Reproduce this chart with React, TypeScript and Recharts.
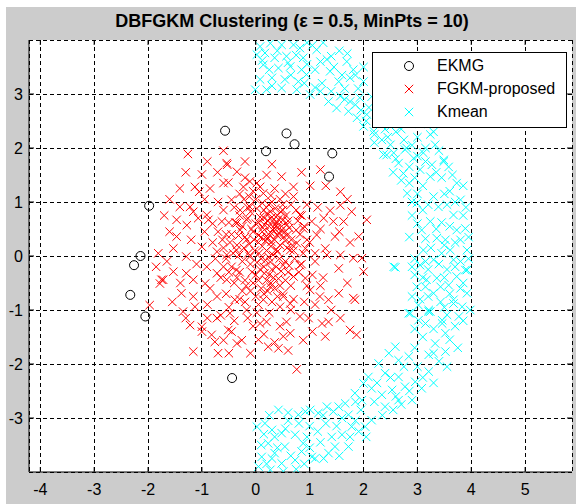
import { ScatterChart, Scatter, XAxis, YAxis, CartesianGrid } from 'recharts'

// EKMG cluster centres (black circles)
const ekmgPoints: [number, number][] = [
  [-0.57, 2.32], [0.57, 2.27], [0.72, 2.07], [0.19, 1.94], [1.42, 1.9], [1.36, 1.47],
  [-1.98, 0.93], [-2.14, 0.0], [-2.26, -0.17], [-2.33, -0.72], [-2.05, -1.12], [-0.44, -2.26],
]

// FGKM-proposed (red crosses)
const fgkmPoints: [number, number][] = [
  [-1.26, 1.89], [-1.0, 1.51], [-0.53, 1.69], [-0.35, 1.56], [-0.71, 1.55], [-1.41, 1.25], [-1.13, 1.28],
  [-1.05, 1.19], [-0.6, 1.35], [-0.51, 1.36], [-0.23, 1.28], [-0.11, 1.38], [-0.45, 1.04], [-1.41, 0.91],
  [-1.22, 0.91], [-1.16, 0.82], [-0.91, 0.76], [-1.47, 0.67], [-1.28, 0.57], [-1.07, 0.7], [-0.88, 0.67],
  [-0.63, 0.64], [-0.35, 0.61], [-0.17, 0.67], [-0.29, 0.48], [-1.47, 0.36], [-1.53, 0.14], [-1.81, 0.05],
  [-1.29, -0.01], [-1.0, 0.17], [-0.72, 0.08], [-0.54, 0.02], [-0.36, 0.11], [-0.17, 0.3], [-0.11, -0.01],
  [-1.53, -0.29], [-1.72, -0.44], [-1.78, -0.51], [-1.29, -0.32], [-1.16, -0.44], [-0.94, -0.51], [-0.91, -0.2],
  [-0.72, -0.32], [-0.54, -0.44], [-0.36, -0.26], [-1.38, -0.69], [-1.16, -0.75], [-0.72, -0.75], [-0.39, -0.81],
  [-1.97, -0.91], [-1.35, -1.03], [-1.13, -0.94], [-0.72, -1.15], [-0.48, -1.06], [-0.17, -1.0], [-1.22, -1.28],
  [-1.0, -1.31], [-0.82, -1.46], [-0.51, -1.37], [-0.76, -1.59], [-0.6, -1.56], [-0.35, -1.62], [-0.26, -1.56],
  [-1.16, -1.77], [-1.0, -1.4], [-0.11, 0.91], [-0.29, 0.85],
  [0.48, 1.47], [0.7, 1.28], [1.01, 1.3], [1.57, 1.19], [1.57, 0.94], [1.38, 0.84], [1.78, 0.82], [2.06, 0.67],
  [1.26, 0.7], [1.44, 0.64], [1.63, 0.64], [0.82, 0.76], [1.04, 0.64], [1.13, 0.39], [1.47, 0.36], [1.91, 0.36],
  [0.88, 0.51], [0.76, 0.24], [0.64, 0.11], [1.29, 0.14], [1.32, 0.02], [1.57, 0.02], [1.81, -0.04], [1.97, -0.04],
  [2.0, -0.29], [1.54, -0.23], [0.92, -0.41], [0.7, -0.38], [1.19, -0.75], [1.35, -0.81], [1.54, -0.69], [1.81, -0.78],
  [1.01, -0.63], [0.64, -0.88], [0.45, -0.94], [0.98, -1.15], [1.23, -1.25], [1.35, -1.22], [1.57, -1.15],
  [1.75, -1.37], [1.87, -1.46], [1.29, -1.49], [0.88, -1.56], [0.64, -1.43], [0.51, -1.49], [0.23, -1.68],
  [0.42, -1.71], [0.76, -2.1], [0.27, -0.57], [0.51, -0.75], [0.14, -0.81], [0.2, -1.22], [0.08, -1.25],
  [0.82, -0.17], [0.51, -0.17], [0.27, -0.11], [0.92, 0.14], [0.39, 0.39], [0.2, 0.36], [0.51, 0.67], [0.27, 0.82],
  [0.14, 1.16], [0.02, 1.35], [0.82, -1.12], [0.57, -1.22], [-0.54, 1.72], [-1.75, -0.44], [1.84, -0.81],
  [0.05, 0.62], [0.12, 0.45], [0.25, 0.55], [0.35, 0.3], [0.05, 0.25], [-0.2, 0.35], [0.2, 0.1], [0.45, 0.2],
  [0.6, 0.4], [-0.35, 0.2], [0.1, -0.05], [-0.1, -0.15], [0.3, -0.25], [0.0, -0.35], [-0.25, -0.1], [0.2, -0.45],
  [-0.4, -0.5], [0.55, -0.1], [0.4, 0.75], [0.15, 0.85], [-0.15, 0.9], [0.0, 1.05], [0.3, 1.0], [0.5, 0.95],
  [-0.3, 0.75], [-0.55, 0.4], [-0.6, 0.15], [-0.45, -0.2], [-0.65, -0.4], [0.7, 0.1], [0.8, -0.3], [0.65, -0.55],
  [0.35, -0.6], [-0.1, -0.65], [-0.3, -0.8], [0.05, -0.9], [0.25, -1.05], [-0.15, -1.15], [0.45, -1.3],
  [-0.5, -0.95], [0.6, 0.65], [0.75, 0.85], [0.9, 0.55], [1.0, 0.25], [1.1, -0.1], [0.95, -0.55],
  [0.32, 0.48], [0.38, 0.62], [0.44, 0.41], [0.18, 0.28], [0.08, 0.72], [-0.05, 0.45], [0.22, 0.66], [0.28, 0.18],
  [0.48, 0.55], [0.55, 0.28], [0.62, 0.52], [0.4, 0.08], [0.15, -0.2], [-0.02, 0.1], [-0.12, 0.22], [-0.08, 0.5],
  [0.02, 0.88], [0.12, 0.98], [-0.22, 1.05], [-0.4, 0.9], [-0.5, 0.62], [-0.7, 0.45], [-0.8, 0.25], [-0.75, -0.05],
  [-0.6, -0.2], [-0.85, -0.6], [-0.55, -0.7], [-0.2, -0.45], [0.1, -0.6], [0.42, -0.42], [0.5, -0.7], [0.7, -0.8],
  [0.3, -0.85], [-0.05, -1.3], [0.15, -1.45], [-0.4, -1.2], [0.65, -1.0], [1.05, -0.35], [1.2, 0.5], [0.95, 0.95],
  [0.7, 1.1], [0.35, 1.25], [-0.05, 1.2], [-0.3, 1.15], [-0.7, 1.0], [-0.85, 1.25], [-0.6, 0.85],
  [0.26, 0.38], [0.34, 0.52], [0.16, 0.58], [0.42, 0.68], [0.3, 0.72], [0.52, 0.35], [0.58, 0.15], [0.66, 0.3],
  [0.1, 0.35], [0.0, 0.6], [-0.15, 0.7], [-0.25, 0.55], [0.2, 0.78], [0.46, 0.82], [0.56, 0.75], [0.24, 0.95],
  [0.36, 0.88], [-0.1, 0.82], [0.06, 0.05], [0.18, -0.08], [0.32, 0.02], [0.44, -0.05], [0.6, -0.3], [0.38, -0.2],
  [0.25, -0.35], [0.08, -0.25], [-0.05, -0.5], [0.15, -0.7], [0.45, -0.55], [-0.3, -0.3], [-0.42, 0.05],
  [-0.32, 0.38], [-0.48, 0.25], [0.72, -0.05], [0.82, 0.4], [0.78, 0.65], [0.88, 0.05], [-0.2, -0.85],
  [0.02, -1.05], [-0.65, -1.1], [-0.9, -0.9], [-1.1, -0.15], [-1.2, 0.3], [-0.95, 0.45], [-0.8, 0.6],
  [-0.95, 1.05], [-0.2, 1.45], [0.2, 1.5], [0.55, 1.15], [1.15, 0.9], [1.25, -0.4], [1.1, -0.9], [0.35, -1.6],
  [-0.1, -1.8], [-0.5, -1.8],
  [0.13, 0.52], [0.27, 0.44], [0.36, 0.58], [0.21, 0.31], [0.47, 0.47], [0.05, 0.38], [-0.03, 0.3], [0.31, 0.65],
  [0.4, 0.52], [0.16, 0.7], [0.58, 0.58], [0.53, 0.44], [0.29, 0.26], [0.12, 0.18], [0.38, 0.12], [0.24, -0.02],
  [0.02, -0.12], [-0.14, 0.05], [-0.22, 0.15], [-0.31, 0.02], [0.47, -0.28], [0.33, -0.4], [0.16, -0.32],
  [-0.07, -0.3], [-0.18, -0.55], [0.05, -0.45], [0.28, -0.5], [0.62, -0.18], [0.68, 0.2], [0.75, 0.48], [0.5, 0.85],
  [0.65, 0.95], [0.28, 1.12], [0.08, 1.28], [-0.12, 1.1], [-0.38, 0.62], [-0.45, 0.4], [-0.62, 0.3], [-0.55, -0.05],
  [-0.35, -0.4], [-0.5, -0.3], [-0.25, -0.65], [0.0, -0.75], [0.22, -0.65], [0.4, -0.75], [0.55, -0.45],
  [0.85, -0.15], [0.95, 0.3], [0.85, 0.75], [0.45, 1.05],
  [-1.6, 0.45], [-1.65, -0.1], [-1.4, -0.5], [-1.55, -0.85], [-1.3, -1.15], [-0.9, -1.15], [-0.45, -1.4],
  [0.05, -1.55], [0.6, -1.75], [1.05, -1.4], [1.4, -1.0], [1.7, -0.5], [1.75, 0.25], [1.7, 1.05], [1.3, 1.3],
  [0.85, 1.55], [-0.6, 1.95], [-0.9, 1.75], [-1.3, 1.55], [-1.6, 1.05], [-1.7, 0.75], [-1.85, -0.2], [1.2, 1.6],
  [0.3, 1.7], [-0.2, 1.75], [1.55, 0.45], [1.1, 0.05], [1.2, -0.55], [0.9, -0.85], [-0.7, -1.8],
]

// Kmean (cyan crosses)
const kmeanPoints: [number, number][] = [
  [0.08, 3.88], [0.27, 3.94], [0.48, 3.91], [0.7, 3.91], [0.82, 3.85], [0.02, 3.73], [0.17, 3.76], [0.35, 3.67],
  [0.57, 3.7], [0.88, 3.67], [1.13, 3.82], [1.32, 3.64], [1.69, 3.6], [0.14, 3.54], [0.42, 3.48], [0.64, 3.51],
  [0.85, 3.45], [1.1, 3.45], [1.38, 3.42], [1.81, 3.45], [0.08, 3.27], [0.3, 3.3], [0.54, 3.27], [0.79, 3.23],
  [0.94, 3.36], [1.23, 3.2], [1.54, 3.23], [1.75, 3.3], [2.0, 3.23], [-0.01, 3.08], [0.2, 3.08], [0.48, 3.11],
  [0.76, 3.08], [1.01, 2.99], [1.2, 3.05], [1.35, 2.86], [1.57, 2.96], [1.75, 2.86], [1.93, 2.93], [1.5, 2.74],
  [1.72, 2.68], [1.88, 2.56], [2.06, 2.62], [2.0, 2.4], [2.19, 2.31], [2.34, 2.15], [2.5, 2.06], [2.56, 1.91],
  [2.37, 1.88], [2.77, 1.97], [2.93, 1.81], [3.24, 2.25], [3.33, 2.06], [3.11, 1.91], [3.49, 1.75], [2.65, 1.72],
  [2.43, 1.87], [2.74, 1.53], [3.27, 1.69], [3.49, 1.78], [3.58, 1.65], [3.24, 1.47], [3.73, 1.35], [2.81, 1.16],
  [2.99, 0.98], [3.39, 0.91], [3.8, 1.04], [3.67, 0.76], [3.24, 0.64], [3.08, 0.48], [3.36, 0.33], [3.52, 0.3],
  [3.89, 0.51], [3.73, 0.48], [3.61, 0.11], [3.92, 0.11], [3.11, 0.11], [3.3, -0.07], [2.59, -0.21], [3.05, -0.17],
  [3.67, -0.07], [3.89, -0.26], [3.36, -0.41], [3.15, -0.57], [3.58, -0.54], [2.99, -0.57], [3.3, -0.69],
  [3.92, -0.69], [3.67, -0.88], [3.43, -0.85], [3.21, -1.03], [2.87, -1.06], [3.55, -1.09], [3.83, -0.94],
  [3.02, -1.19], [3.46, -1.25], [3.77, -1.12], [2.84, -1.06], [3.21, -1.0], [3.46, -1.19], [3.02, -0.91],
  [3.52, -1.43], [3.33, -1.62], [3.52, -1.77], [3.21, -1.83], [2.59, -1.68], [2.84, -1.86], [2.65, -1.93],
  [2.47, -1.8], [2.28, -1.99], [2.4, -2.17], [2.65, -2.24], [2.96, -2.33], [3.21, -2.14], [3.08, -2.45],
  [2.77, -2.42], [2.53, -2.48], [2.09, -2.24], [2.0, -2.36], [2.15, -2.45], [2.34, -2.57], [2.65, -2.67],
  [2.9, -2.67], [2.4, -2.79], [1.84, -2.54], [1.97, -2.67], [1.66, -2.73], [1.54, -2.79], [1.44, -2.88],
  [1.16, -2.91], [0.92, -2.88], [0.42, -2.85], [0.79, -2.94], [1.72, -2.94], [2.15, -3.04], [2.03, -3.16],
  [1.91, -3.25], [1.78, -3.16], [1.6, -3.31], [1.41, -3.35], [1.47, -3.53], [1.72, -3.53], [1.26, -3.75],
  [1.04, -3.72], [0.85, -3.62], [0.73, -3.78], [0.54, -3.53], [0.48, -3.28], [0.73, -3.31], [0.88, -3.47],
  [0.17, -3.1], [0.02, -3.16], [0.3, -3.22], [0.23, -3.47], [0.35, -3.65], [0.48, -3.84], [0.11, -3.72],
  [0.05, -3.9], [0.27, -3.96], [0.51, -3.99], [1.01, -2.85], [1.32, -2.79], [2.56, -0.2], [3.17, -0.44],
  [3.43, -0.57], [3.73, -0.38], [3.92, -0.26], [3.67, -0.81], [3.98, -1.0], [3.24, -1.03],
  [0.12, 3.62], [0.25, 3.45], [0.4, 3.8], [0.6, 3.58], [0.75, 3.72], [0.95, 3.55], [1.05, 3.9], [1.2, 3.6],
  [1.45, 3.5], [1.55, 3.8], [0.3, 3.15], [0.65, 3.35], [0.9, 3.2], [1.1, 3.12], [1.4, 3.05], [1.65, 3.1],
  [1.85, 2.8], [2.1, 2.75], [2.25, 2.55], [2.4, 2.35], [2.2, 2.1], [2.6, 2.3], [2.75, 2.15], [2.9, 2.05],
  [3.05, 1.6], [2.55, 1.55], [2.85, 1.35], [3.1, 1.3], [3.45, 1.45], [3.6, 1.2], [3.0, 1.15], [3.2, 0.95],
  [3.55, 0.95], [2.9, 0.75], [3.45, 0.62], [3.85, 0.75], [3.15, 0.32], [3.7, 0.25], [2.95, -0.05], [3.45, 0.05],
  [3.8, -0.1], [3.2, -0.25], [3.55, -0.25], [2.95, -0.35], [3.05, -0.8], [3.6, -0.7], [3.85, -0.5], [3.3, -1.35],
  [3.7, -1.3], [3.1, -1.5], [2.95, -1.7], [3.4, -1.95], [3.0, -2.05], [2.75, -2.05], [2.5, -2.25], [2.85, -2.5],
  [2.2, -2.7], [2.55, -2.85], [1.95, -2.85], [1.85, -3.05], [1.6, -3.0], [1.3, -3.1], [1.15, -3.25], [1.0, -3.15],
  [0.6, -3.05], [0.35, -3.35], [1.2, -3.45], [1.0, -3.55], [0.65, -3.7], [0.9, -3.85], [0.2, -3.85], [0.4, -3.55],
  [1.35, -3.65], [0.15, -3.3],
  [1.6, 3.35], [1.9, 3.1], [2.15, 2.95], [2.3, 2.8], [2.45, 2.6], [2.6, 2.5], [2.05, 2.5], [2.3, 2.45], [2.5, 2.4],
  [2.7, 2.35], [2.8, 2.0], [3.0, 2.2], [3.15, 2.0], [3.0, 1.85], [2.45, 2.2], [2.2, 2.25], [1.95, 2.7], [1.65, 2.9],
  [1.85, 3.35], [2.3, 3.1], [2.55, 2.75], [2.8, 2.6], [3.05, 2.45], [3.3, 2.3], [3.4, 1.95], [2.6, 1.8], [2.85, 1.65],
  [3.15, 1.75], [3.35, 1.55], [2.7, 1.4], [2.95, 1.45], [3.65, 1.5], [3.85, 1.3], [3.0, 2.65], [2.65, 2.95],
  [2.0, 3.5], [2.3, 3.3], [1.4, 3.7], [1.7, 3.75], [0.95, 3.95], [1.25, 3.95],
  [2.9, 1.0], [3.1, 0.85], [3.3, 1.1], [3.5, 1.15], [3.7, 1.0], [3.9, 0.9], [3.0, 0.6], [3.35, 0.5], [3.6, 0.55],
  [3.95, 0.35], [2.85, 0.35], [3.25, 0.15], [3.5, 0.2], [3.8, 0.3], [2.9, -0.2], [3.15, -0.1], [3.4, -0.15],
  [3.7, -0.2], [3.95, -0.05], [3.1, -0.4], [3.5, -0.4], [3.8, -0.6], [2.9, -0.75], [3.2, -0.75], [3.5, -0.95],
  [3.85, -1.2], [3.15, -1.25], [2.95, -1.35], [3.6, -1.55], [3.3, -1.8], [3.75, -1.7], [3.55, -2.05], [3.1, -2.25],
  [3.3, -2.35],
  [2.7, -2.75], [2.35, -2.95], [2.05, -3.35], [1.75, -3.35], [1.5, -3.15], [1.25, -2.95], [0.6, -2.9],
  [0.25, -2.95], [0.1, -3.5], [0.55, -3.2], [0.8, -3.1], [1.1, -3.75], [0.75, -3.95], [1.55, -3.7], [0.3, -3.75],
  [0.95, -3.35], [1.85, -2.7], [2.25, -2.35], [2.6, -2.6],
]

const xTicks = [-4, -3, -2, -1, 0, 1, 2, 3, 4, 5]
const yTicks = [-3, -2, -1, 0, 1, 2, 3]

const FONT = '"Liberation Sans", Arial, sans-serif'
const W = 576
const H = 504
const M = { top: 40, right: 4, bottom: 0, left: 0 }
const X_AXIS_H = 32
const Y_AXIS_W = 29
const PLOT_TOP = M.top
const PLOT_BOTTOM = H - M.bottom - X_AXIS_H
const PLOT_LEFT = M.left + Y_AXIS_W
const PLOT_RIGHT = W - M.right

const toXY = (pts: [number, number][]) => pts.map(([x, y]) => ({ x, y }))

function Cross({ cx, cy, color }: { cx?: number, cy?: number, color: string }) {
  if (cx == null || cy == null) return null
  const s = 4.2
  return (
    <path
      d={`M${cx - s},${cy - s}L${cx + s},${cy + s}M${cx - s},${cy + s}L${cx + s},${cy - s}`}
      stroke={color}
      strokeWidth={1}
      fill="none"
    />
  )
}

function Ring({ cx, cy }: { cx?: number, cy?: number }) {
  if (cx == null || cy == null) return null
  return <circle cx={cx} cy={cy} r={4.5} stroke="#000" strokeWidth={1} fill="none" />
}

// MATLAB style: ticks point inward on all four sides
function BottomTick({ x, y, payload }: any) {
  return (
    <g>
      <line x1={x} y1={PLOT_BOTTOM} x2={x} y2={PLOT_BOTTOM - 5} stroke="#000" />
      <line x1={x} y1={PLOT_TOP} x2={x} y2={PLOT_TOP + 5} stroke="#000" />
      <text x={x} y={y + 23} textAnchor="middle" fontSize={16} fontFamily={FONT} fill="#000">
        {payload.value}
      </text>
    </g>
  )
}

function LeftTick({ x, y, payload }: any) {
  return (
    <g>
      <line x1={PLOT_LEFT} y1={y} x2={PLOT_LEFT + 5} y2={y} stroke="#000" />
      <line x1={PLOT_RIGHT} y1={y} x2={PLOT_RIGHT - 5} y2={y} stroke="#000" />
      <text x={x - 6} y={y} dy="0.36em" textAnchor="end" fontSize={16} fontFamily={FONT} fill="#000">
        {payload.value}
      </text>
    </g>
  )
}

const legendItems = [
  { name: 'EKMG', kind: 'ring', color: '#000' },
  { name: 'FGKM-proposed', kind: 'cross', color: '#ff0000' },
  { name: 'Kmean', kind: 'cross', color: '#00ffff' },
]

export default function App() {
  return (
    <div style={{ position: 'absolute', left: 0, top: 0, width: W, height: H, background: '#fff', fontFamily: FONT }}>
      <div style={{ position: 'absolute', left: 6, top: 7, right: 0, bottom: 0, background: '#cccccc' }} />
      <div
        style={{
          position: 'absolute', left: 42, top: 9, width: 500, textAlign: 'center',
          fontSize: 18, fontWeight: 'bold', color: '#000', lineHeight: '24px',
        }}
      >
        DBFGKM Clustering (ε = 0.5, MinPts = 10)
      </div>
      <div style={{ position: 'absolute', left: 0, top: 0 }}>
        <ScatterChart width={W} height={H} margin={M}>
          <CartesianGrid stroke="#000" strokeDasharray="4 3" fill="#fff" shapeRendering="crispEdges" />
          <XAxis
            type="number"
            dataKey="x"
            domain={[-4.21, 5.87]}
            allowDataOverflow
            ticks={xTicks}
            height={X_AXIS_H}
            tickSize={0}
            tickMargin={0}
            tickLine={false}
            axisLine={{ stroke: '#000' }}
            tick={<BottomTick />}
            interval={0}
          />
          <XAxis xAxisId="top" orientation="top" type="number" domain={[-4.21, 5.87]} allowDataOverflow
            height={0} tick={false} tickLine={false} axisLine={{ stroke: '#000' }} />
          <YAxis
            type="number"
            dataKey="y"
            domain={[-4, 4]}
            allowDataOverflow
            ticks={yTicks}
            width={Y_AXIS_W}
            tickSize={0}
            tickMargin={0}
            tickLine={false}
            axisLine={{ stroke: '#000' }}
            tick={<LeftTick />}
            interval={0}
          />
          <YAxis yAxisId="right" orientation="right" type="number" domain={[-4, 4]} allowDataOverflow
            width={0} tick={false} tickLine={false} axisLine={{ stroke: '#000' }} />
          <Scatter name="EKMG" data={toXY(ekmgPoints)} isAnimationActive={false}
            shape={(p: any) => <Ring cx={p.cx} cy={p.cy} />} />
          <Scatter name="FGKM-proposed" data={toXY(fgkmPoints)} isAnimationActive={false}
            shape={(p: any) => <Cross cx={p.cx} cy={p.cy} color="#ff0000" />} />
          <Scatter name="Kmean" data={toXY(kmeanPoints)} isAnimationActive={false}
            shape={(p: any) => <Cross cx={p.cx} cy={p.cy} color="#00ffff" />} />
        </ScatterChart>
      </div>
      <div
        style={{
          position: 'absolute', left: 372, top: 52, width: 193, height: 74,
          background: '#fff', border: '1px solid #000',
        }}
      >
        {legendItems.map((item, i) => (
          <div key={item.name} style={{ position: 'absolute', left: 0, top: 2 + i * 23, height: 22, width: '100%' }}>
            <svg width={20} height={20} style={{ position: 'absolute', left: 26, top: 1 }}>
              {item.kind === 'ring'
                ? <Ring cx={10} cy={10} />
                : <Cross cx={10} cy={10} color={item.color} />}
            </svg>
            <span style={{ position: 'absolute', left: 64, top: 1, fontSize: 16, lineHeight: '20px', color: '#000' }}>
              {item.name}
            </span>
          </div>
        ))}
      </div>
    </div>
  )
}
